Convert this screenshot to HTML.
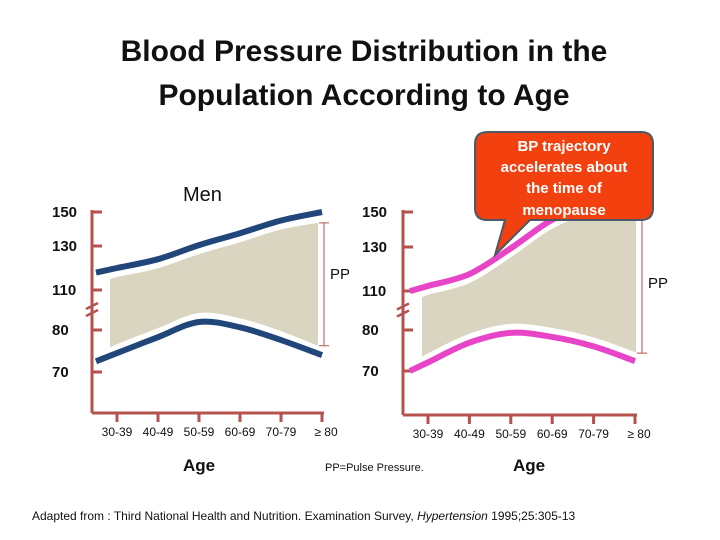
<!DOCTYPE html>
<html><head><meta charset="utf-8"><style>
body{margin:0;background:#fff;width:720px;height:540px;overflow:hidden;font-family:"Liberation Sans",sans-serif}
svg{display:block}
</style></head><body>
<svg id="chart" width="720" height="540" font-family="Liberation Sans, sans-serif">
<text x="364" y="61" text-anchor="middle" font-size="30" font-weight="bold" fill="#111">Blood Pressure Distribution in the</text>
<text x="364" y="105" text-anchor="middle" font-size="30" font-weight="bold" fill="#111">Population According to Age</text>
<text x="183" y="201" font-size="20" fill="#111">Men</text>
<g id="men"></g>
<g id="women"></g>
<text x="183" y="471" font-size="17" font-weight="bold" fill="#111">Age</text>
<text x="325" y="471" font-size="11" fill="#111">PP=Pulse Pressure.</text>
<text x="513" y="471" font-size="17" font-weight="bold" fill="#111">Age</text>
<text x="32" y="520" font-size="12" fill="#111">Adapted from : Third National Health and Nutrition. Examination Survey, <tspan font-style="italic">Hypertension</tspan> 1995;25:305-13</text>
<g id="callout">
<path d="M488,132 H641 Q653,132 653,144 V208 Q653,220 641,220 H530 L495,255 L505,220 H487 Q475,220 475,208 V144 Q475,132 488,132 Z" fill="#f2400f" stroke="#4a5868" stroke-width="2"/>
<g font-size="15" font-weight="bold" fill="#fff" text-anchor="middle">
<text x="564" y="151">BP trajectory</text>
<text x="564" y="172">accelerates about</text>
<text x="564" y="193">the time of</text>
<text x="564" y="215">menopause</text>
</g></g>
</svg>
<script>
const categories=["30-39","40-49","50-59","60-69","70-79","\u2265 80"];
const yTickValues=[150,130,110,80,70];
const yTickLabels=["150","130","110","80","70"];
const menSystolic=[120,124,130.5,137.5,145,150];
const menDiastolic=[74.5,78.3,86,82,77.6,74];
const womenSystolic=[112.3,117.7,129.4,145.6,155,158];
const womenDiastolic=[72.1,76.9,79.3,78.3,76,72.4];

const NS="http://www.w3.org/2000/svg";
function mk(parent,tag,attrs){const e=document.createElementNS(NS,tag);for(const k in attrs)e.setAttribute(k,attrs[k]);parent.appendChild(e);return e;}
function smooth(pts){let d="M"+pts[0][0]+","+pts[0][1];for(let i=0;i<pts.length-1;i++){const p0=pts[Math.max(0,i-1)],p1=pts[i],p2=pts[i+1],p3=pts[Math.min(pts.length-1,i+2)];
d+=" C"+(p1[0]+(p2[0]-p0[0])/6)+","+(p1[1]+(p2[1]-p0[1])/6)+" "+(p2[0]-(p3[0]-p1[0])/6)+","+(p2[1]-(p3[1]-p1[1])/6)+" "+p2[0]+","+p2[1];}return d;}

function drawPanel(g,cfg){
 const ax=cfg.ax, tys=cfg.tickYs, bottom=cfg.bottom, xs0=cfg.x0, step=cfg.step, col="#b5524e";
 const vals=yTickValues.slice().reverse(), ys=tys.slice().reverse();
 function y(v){let i=0;if(v<=vals[0])i=0;else if(v>=vals[vals.length-1])i=vals.length-2;else{while(v>vals[i+1])i++;}
   return ys[i]+(v-vals[i])*(ys[i+1]-ys[i])/(vals[i+1]-vals[i]);}
 function x(i){return xs0+i*step;}
 const sys=cfg.sys.map((v,i)=>[x(i),y(v)]), dia=cfg.dia.map((v,i)=>[x(i),y(v)]);
 const bl=cfg.bandL, br=cfg.bandR;
 function interp(arr,xx){if(xx<=arr[0][0]){const s=(arr[1][1]-arr[0][1])/(arr[1][0]-arr[0][0]);return arr[0][1]+(xx-arr[0][0])*s;}
   for(let i=0;i<arr.length-1;i++)if(xx<=arr[i+1][0])return arr[i][1]+(xx-arr[i][0])*(arr[i+1][1]-arr[i][1])/(arr[i+1][0]-arr[i][0]);return arr[arr.length-1][1];}
 const top=[[bl,interp(sys,bl)+10]].concat(sys.filter(p=>p[0]>bl&&p[0]<br).map(p=>[p[0],p[1]+9]),[[br,interp(sys,br)+10]]);
 const bot=[[bl,interp(dia,bl)-8]].concat(dia.filter(p=>p[0]>bl&&p[0]<br).map(p=>[p[0],p[1]-9]),[[br,interp(dia,br)-8]]);
 const botR=bot.slice().reverse();
 const band=mk(g,"path",{d:smooth(top)+" L"+botR[0][0]+","+botR[0][1]+smooth(botR).replace(/^M[^C]*/," ")+" Z",fill:"#d9d5c1"});
 
 
 const yAxis=mk(g,"line",{x1:ax,y1:tys[0]-2,x2:ax,y2:bottom,stroke:col,"stroke-width":3});
 
 
 const xAxis=mk(g,"line",{x1:ax,y1:bottom,x2:x(5)+2,y2:bottom,stroke:col,"stroke-width":3});
 
 
 yTickValues.forEach((v,i)=>{
  const ty=y(v);
  const t=mk(g,"line",{x1:ax,y1:ty,x2:ax+10,y2:ty,stroke:col,"stroke-width":3});
  
  
  const l=mk(g,"text",{x:cfg.labelX,y:ty+5,"font-size":15,"font-weight":"bold",fill:"#111"});l.textContent=yTickLabels[i];
  
  
 });
 const by=(y(110)+y(80))/2;
 const brk=mk(g,"path",{d:`M${ax-6},${by-1} L${ax+6},${by-7} M${ax-6},${by+6} L${ax+6},${by}`,stroke:col,"stroke-width":2.5,fill:"none"});
 
 
 categories.forEach((c,i)=>{
  const t=mk(g,"line",{x1:x(i),y1:bottom,x2:x(i),y2:bottom+9,stroke:col,"stroke-width":3});
  
  
  const l=mk(g,"text",{x:x(i)+(i==5?4:0),y:bottom+23,"font-size":12,fill:"#111","text-anchor":"middle"});l.textContent=c;
  
  
 });
 const ext=(arr)=>{const s=(arr[1][1]-arr[0][1])/(arr[1][0]-arr[0][0]);return [[cfg.lineStart,arr[0][1]-(arr[0][0]-cfg.lineStart)*s]].concat(arr);};
 const sl=mk(g,"path",{d:smooth(ext(sys)),stroke:cfg.color,"stroke-width":6,fill:"none"});
 
 
 const dl=mk(g,"path",{d:smooth(ext(dia)),stroke:cfg.color,"stroke-width":6,fill:"none"});
 
 
 const pt=interp(top,br), pb=interp(bot,br);
 const pp=mk(g,"path",{d:`M${cfg.ppX},${pt} V${pb} M${cfg.ppX-5},${pt} H${cfg.ppX+5} M${cfg.ppX-5},${pb} H${cfg.ppX+5}`,stroke:col,"stroke-width":1,fill:"none"});
 
 
 const ppl=mk(g,"text",{x:cfg.ppX+6,y:cfg.ppLabelY,"font-size":15,fill:"#111"});ppl.textContent="PP";
 
 
}
drawPanel(document.getElementById("men"),{name:"men",ax:92,tickYs:[212,246,290,330,372],bottom:413,x0:117,step:41,sys:menSystolic,dia:menDiastolic,color:"#21477a",bandL:110,bandR:318,lineStart:96,ppX:324,ppLabelY:279,labelX:52});
drawPanel(document.getElementById("women"),{name:"women",ax:403,tickYs:[212,247,291,330,371],bottom:415,x0:428,step:41.4,sys:womenSystolic,dia:womenDiastolic,color:"#e844c8",bandL:422,bandR:636,lineStart:410,ppX:642,ppLabelY:288,labelX:362});
document.getElementById("chart").appendChild(document.getElementById("callout"));
</script>
</body></html>
